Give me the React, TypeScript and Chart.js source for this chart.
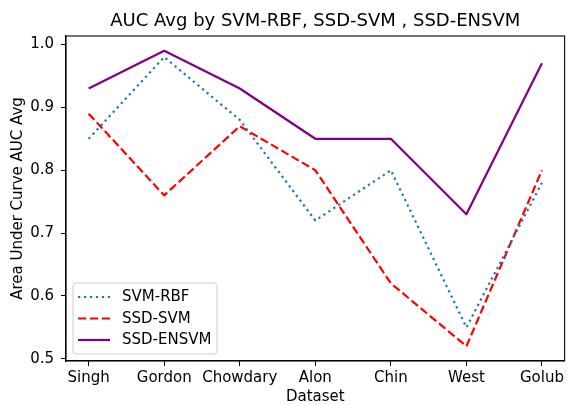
import React, { useEffect, useRef } from "react";
import { Chart, registerables } from "chart.js";

Chart.register(...registerables);

const categories = ["Singh", "Gordon", "Chowdary", "Alon", "Chin", "West", "Golub"];
const svmRbf = [0.85, 0.98, 0.88, 0.72, 0.8, 0.55, 0.78];
const ssdSvm = [0.89, 0.76, 0.87, 0.8, 0.62, 0.52, 0.8];
const ssdEnsvm = [0.93, 0.99, 0.93, 0.85, 0.85, 0.73, 0.97];
const yTicks = [0.5, 0.6, 0.7, 0.8, 0.9, 1.0];

const FONT = "'DejaVu Sans', sans-serif";
const TITLE = "AUC Avg by SVM-RBF, SSD-SVM , SSD-ENSVM";
const XLABEL = "Dataset";
const YLABEL = "Area Under Curve AUC Avg";

const seriesDefs = [
  { label: "SVM-RBF", data: svmRbf, color: "#1f77b4", dash: [2.25, 3.7] },
  { label: "SSD-SVM", data: ssdSvm, color: "#ff0000", dash: [8.3, 3.6] },
  { label: "SSD-ENSVM", data: ssdEnsvm, color: "#800080", dash: [] as number[] },
];

const decorPlugin = {
  id: "decor",
  afterDraw(chart: any) {
    const ctx = chart.ctx as CanvasRenderingContext2D;
    const a = chart.chartArea;
    ctx.save();
    // frame
    ctx.strokeStyle = "#000";
    ctx.lineWidth = 1.1;
    ctx.setLineDash([]);
    ctx.strokeRect(a.left, a.top, a.right - a.left, a.bottom - a.top);
    // title
    ctx.fillStyle = "#000";
    ctx.textAlign = "center";
    ctx.textBaseline = "middle";
    ctx.font = `18px ${FONT}`;
    ctx.fillText(TITLE, (a.left + a.right) / 2, 21);
    // x label
    ctx.font = `15px ${FONT}`;
    ctx.fillText(XLABEL, (a.left + a.right) / 2, 397);
    // y label
    ctx.save();
    ctx.translate(18, (a.top + a.bottom) / 2);
    ctx.rotate(-Math.PI / 2);
    ctx.fillText(YLABEL, 0, 0);
    ctx.restore();
    // legend
    const lx = 73, ly = 283, lw = 144, lh = 71, r = 3;
    ctx.beginPath();
    ctx.moveTo(lx + r, ly);
    ctx.lineTo(lx + lw - r, ly);
    ctx.quadraticCurveTo(lx + lw, ly, lx + lw, ly + r);
    ctx.lineTo(lx + lw, ly + lh - r);
    ctx.quadraticCurveTo(lx + lw, ly + lh, lx + lw - r, ly + lh);
    ctx.lineTo(lx + r, ly + lh);
    ctx.quadraticCurveTo(lx, ly + lh, lx, ly + lh - r);
    ctx.lineTo(lx, ly + r);
    ctx.quadraticCurveTo(lx, ly, lx + r, ly);
    ctx.closePath();
    ctx.fillStyle = "rgba(255,255,255,0.8)";
    ctx.fill();
    ctx.strokeStyle = "#cccccc";
    ctx.lineWidth = 1;
    ctx.stroke();
    const rows = [297, 318.5, 340];
    seriesDefs.forEach((s, i) => {
      const y = rows[i];
      ctx.beginPath();
      ctx.setLineDash(s.dash);
      ctx.lineCap = "butt";
      ctx.strokeStyle = s.color;
      ctx.lineWidth = 2.2;
      ctx.moveTo(78, y);
      ctx.lineTo(110, y);
      ctx.stroke();
      ctx.setLineDash([]);
      ctx.fillStyle = "#000";
      ctx.textAlign = "left";
      ctx.textBaseline = "middle";
      ctx.font = `15px ${FONT}`;
      ctx.fillText(s.label, 122, y + 0.5);
    });
    ctx.restore();
  },
};

export default function App() {
  const ref = useRef<HTMLCanvasElement | null>(null);
  useEffect(() => {
    if (!ref.current) return;
    const chart = new Chart(ref.current, {
      type: "line",
      data: {
        datasets: seriesDefs.map((s) => ({
          label: s.label,
          data: s.data.map((v, i) => ({ x: i, y: v })),
          borderColor: s.color,
          backgroundColor: s.color,
          borderWidth: 2.2,
          borderDash: s.dash,
          borderCapStyle: "butt" as const,
          borderJoinStyle: "round" as const,
          pointRadius: 0,
          pointHoverRadius: 0,
          tension: 0,
          fill: false,
        })),
      },
      options: {
        animation: false,
        responsive: false,
        devicePixelRatio: 1,
        layout: { padding: { top: 36, right: 1, left: 0, bottom: 0 } },
        plugins: {
          legend: { display: false },
          title: { display: false },
          tooltip: { enabled: false },
        },
        scales: {
          x: {
            type: "linear",
            min: -0.3,
            max: 6.3,
            afterBuildTicks: (scale: any) => {
              scale.ticks = categories.map((_, i) => ({ value: i }));
            },
            afterFit: (scale: any) => {
              scale.height = 44;
            },
            ticks: {
              autoSkip: false,
              maxRotation: 0,
              padding: 3,
              color: "#000",
              font: { family: FONT, size: 15 },
              callback: (v: any) => categories[Math.round(Number(v))] ?? "",
            },
            grid: {
              display: true,
              drawOnChartArea: false,
              drawTicks: true,
              tickLength: 5,
              color: "#000",
              lineWidth: 1,
            },
            border: { display: true, color: "#000", width: 1.1 },
          },
          y: {
            type: "linear",
            min: 0.4965,
            max: 1.0135,
            afterBuildTicks: (scale: any) => {
              scale.ticks = yTicks.map((v) => ({ value: v }));
            },
            afterFit: (scale: any) => {
              scale.width = 66;
            },
            ticks: {
              padding: 7,
              color: "#000",
              font: { family: FONT, size: 15 },
              callback: (v: any) => Number(v).toFixed(1),
            },
            grid: {
              display: true,
              drawOnChartArea: false,
              drawTicks: true,
              tickLength: 5,
              color: "#000",
              lineWidth: 1,
            },
            border: { display: true, color: "#000", width: 1.1 },
          },
        },
      },
      plugins: [decorPlugin],
    });
    return () => chart.destroy();
  }, []);
  return (
    <div style={{ position: "fixed", left: 0, top: 0, width: 567, height: 405, background: "#fff" }}>
      <canvas ref={ref} width={567} height={405} style={{ width: 567, height: 405, display: "block" }} />
    </div>
  );
}
